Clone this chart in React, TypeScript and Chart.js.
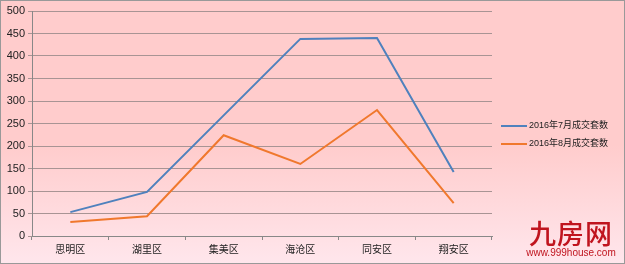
import React, { useEffect, useRef } from "react";
import { Chart, registerables } from "chart.js";

Chart.register(...registerables);

const categories = ["思明区", "湖里区", "集美区", "海沧区", "同安区", "翔安区"];
const julyLabel = "2016年7月成交套数";
const augLabel = "2016年8月成交套数";
const julyValues = [53, 98, 268, 438, 440, 142];
const augValues = [31, 44, 224, 160, 280, 73];
const yTicks = [0, 50, 100, 150, 200, 250, 300, 350, 400, 450, 500];

const BLUE = "#4F81BD";
const ORANGE = "#F0782D";
const FONT = "'Liberation Sans', 'Noto Sans CJK SC', sans-serif";

export default function App() {
  const ref = useRef<HTMLCanvasElement | null>(null);
  useEffect(() => {
    document.body.style.margin = "0";
    const legendPlugin = {
      id: "customLegend",
      afterDraw(chart: any) {
        const ctx = chart.ctx;
        const items = [
          { label: julyLabel, color: BLUE, y: 125 },
          { label: augLabel, color: ORANGE, y: 143 },
        ];
        ctx.save();
        items.forEach((it) => {
          ctx.strokeStyle = it.color;
          ctx.lineWidth = 2;
          ctx.beginPath();
          ctx.moveTo(500, it.y);
          ctx.lineTo(526, it.y);
          ctx.stroke();
          ctx.fillStyle = "#222";
          ctx.font = `9px ${FONT}`;
          ctx.textBaseline = "middle";
          ctx.fillText(it.label, 528, it.y);
        });
        ctx.restore();
      },
    };
    const chart = new Chart(ref.current!, {
      type: "line",
      data: {
        labels: categories,
        datasets: [
          { label: julyLabel, data: julyValues, borderColor: BLUE, borderWidth: 2, pointRadius: 0, tension: 0, fill: false },
          { label: augLabel, data: augValues, borderColor: ORANGE, borderWidth: 2, pointRadius: 0, tension: 0, fill: false },
        ],
      },
      options: {
        animation: false,
        responsive: false,
        layout: { padding: { left: 0, right: 132, top: 10, bottom: 3 } },
        plugins: { legend: { display: false }, tooltip: { enabled: false } },
        scales: {
          x: {
            offset: true,
            grid: { display: true, offset: true, drawOnChartArea: false, color: "#888", tickLength: 4 },
            border: { color: "#888" },
            ticks: { color: "#222", font: { size: 10, family: FONT }, padding: 4 },
          },
          y: {
            min: 0,
            max: 500,
            afterBuildTicks(axis: any) {
              axis.ticks = yTicks.map((v) => ({ value: v }));
            },
            grid: { color: "#A89494", tickLength: 4, lineWidth: 1 },
            border: { color: "#888" },
            ticks: { color: "#222", font: { size: 11, family: FONT }, padding: 3 },
            afterFit(axis: any) {
              axis.width = 31;
            },
          },
        },
      },
      plugins: [legendPlugin],
    });
    return () => chart.destroy();
  }, []);
  return (
    <div
      style={{
        position: "fixed",
        left: 0,
        top: 0,
        width: 625,
        height: 264,
        boxSizing: "border-box",
        border: "1px solid #999",
        background: "linear-gradient(#FFCCCC 0%, #FFCCCC 55%, #FFE6EC 100%)",
        overflow: "hidden",
      }}
    >
      <canvas ref={ref} width={623} height={262} style={{ position: "absolute", left: 0, top: 0 }} />
      <div
        style={{
          position: "absolute",
          left: 522,
          top: 218,
          width: 96,
          textAlign: "center",
          color: "#C0141E",
          fontFamily: "'Noto Sans CJK SC', sans-serif",
          fontSize: 27,
          lineHeight: "27px",
          letterSpacing: 1,
          fontWeight: 500,
        }}
      >
        九房网
      </div>
      <div
        style={{
          position: "absolute",
          left: 518,
          top: 247,
          width: 104,
          textAlign: "center",
          color: "#C0141E",
          fontFamily: "'Liberation Sans', sans-serif",
          fontSize: 10,
          lineHeight: "10px",
        }}
      >
        www.999house.com
      </div>
    </div>
  );
}
